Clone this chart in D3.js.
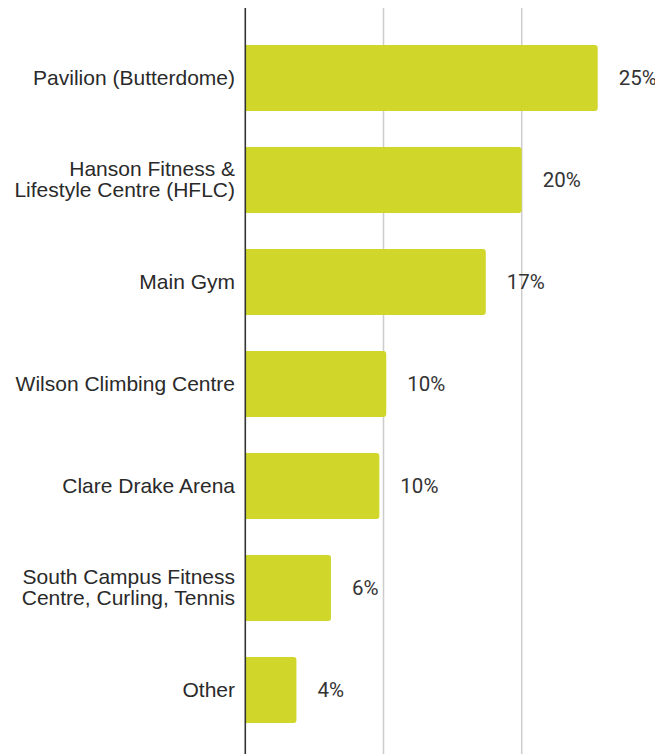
<!DOCTYPE html>
<html>
<head>
<meta charset="utf-8">
<script src="https://cdn.jsdelivr.net/npm/d3@7"></script>
<style>
  html, body { margin: 0; padding: 0; background: #fff; }
  svg { display: block; }
</style>
</head>
<body>
<svg id="chart" width="655" height="754"></svg>
<script>
const categories = [
  ["Pavilion (Butterdome)"],
  ["Hanson Fitness &", "Lifestyle Centre (HFLC)"],
  ["Main Gym"],
  ["Wilson Climbing Centre"],
  ["Clare Drake Arena"],
  ["South Campus Fitness", "Centre, Curling, Tennis"],
  ["Other"]
];
const values = [25.5, 20.0, 17.4, 10.2, 9.7, 6.2, 3.7];
const valueLabels = ["25%", "20%", "17%", "10%", "10%", "6%", "4%"];
const gridTicks = [10, 20];

const svg = d3.select("#chart");
const x0 = 245.3;
const x = d3.scaleLinear().domain([0, 10]).range([x0, 383.5]);
const idx = d3.range(categories.length);
const y = d3.scaleBand().domain(idx).range([27, 741]).paddingInner(0.353).paddingOuter(0.1765);

// gridlines
svg.selectAll("line.grid").data(gridTicks).join("line")
  .attr("class", "grid")
  .attr("x1", d => x(d)).attr("x2", d => x(d))
  .attr("y1", 8).attr("y2", 754)
  .attr("stroke", "#cccccc").attr("stroke-width", 1.5);

// bars (rounded right corners)
svg.selectAll("path.bar").data(idx).join("path")
  .attr("class", "bar")
  .attr("fill", "#d0d72a")
  .attr("d", i => {
    const x1 = x(0), x2 = x(values[i]), t = y(i), b = y(i) + y.bandwidth(), r = 3;
    return `M${x1},${t}H${x2 - r}Q${x2},${t} ${x2},${t + r}V${b - r}Q${x2},${b} ${x2 - r},${b}H${x1}Z`;
  });

// axis line
svg.append("line")
  .attr("x1", x0).attr("x2", x0).attr("y1", 8).attr("y2", 754)
  .attr("stroke", "#333333").attr("stroke-width", 1.6);

// category labels
const lh = 21;
svg.selectAll("text.cat").data(idx).join("text")
  .attr("class", "cat")
  .attr("x", 235)
  .attr("text-anchor", "end")
  .attr("font-family", "'Liberation Sans', Arial, sans-serif")
  .attr("font-size", 21)
  .attr("fill", "#2a2a2a")
  .each(function(i) {
    const lines = categories[i];
    const cy = y(i) + y.bandwidth() / 2;
    const start = cy - (lines.length - 1) * lh / 2;
    d3.select(this).selectAll("tspan").data(lines).join("tspan")
      .attr("x", 235)
      .attr("y", (d, k) => start + k * lh)
      .attr("dy", "0.33em")
      .text(d => d);
  });

// value labels
svg.selectAll("text.val").data(idx).join("text")
  .attr("class", "val")
  .attr("x", i => x(values[i]) + 21)
  .attr("y", i => y(i) + y.bandwidth() / 2)
  .attr("dy", "0.34em")
  .attr("font-family", "Roboto, sans-serif")
  .attr("font-size", 20.5)
  .attr("fill", "#333333")
  .text(i => valueLabels[i]);
</script>
</body>
</html>
